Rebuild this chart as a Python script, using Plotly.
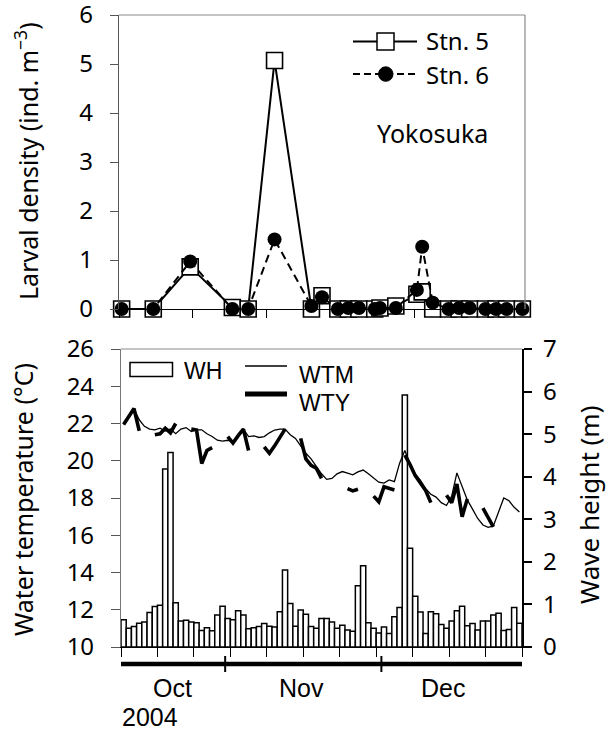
import pandas as pd
import plotly.graph_objects as go

# ---------------- data ----------------
days = pd.date_range("2004-10-12", periods=77, freq="D")

wave_height = [0.64, 0.44, 0.48, 0.56, 0.59, 0.81, 0.95, 0.98, 4.18, 4.57,
               1.04, 0.61, 0.63, 0.59, 0.57, 0.39, 0.45, 0.38, 0.75, 0.96,
               0.67, 0.64, 0.85, 0.75, 0.43, 0.45, 0.48, 0.55, 0.49, 0.47,
               0.83, 1.81, 1.02, 0.49, 0.87, 0.77, 0.48, 0.44, 0.67, 0.67,
               0.59, 0.44, 0.51, 0.40, 0.37, 1.44, 1.91, 0.57, 0.44, 0.33,
               0.47, 0.32, 0.71, 0.93, 5.92, 2.32, 1.19, 0.82, 0.32, 0.83,
               0.78, 0.53, 0.44, 0.61, 0.85, 0.96, 0.50, 0.55, 0.40, 0.61,
               0.61, 0.75, 0.79, 0.39, 0.41, 0.93, 0.56]

wtm = [21.95, 22.35, 22.77, 22.2, 21.85, 21.7, 21.66, 21.75, 21.6, 21.7,
       21.45, 21.7, 21.78, 21.57, 21.66, 21.66, 21.45, 21.3, 21.1, 21.05,
       21.1, 21.03, 21.3, 21.7, 21.3, 21.34, 21.25, 21.3, 21.5, 21.65,
       21.7, 21.7, 21.4, 21.2, 20.8, 20.4, 20.1, 19.7, 19.3, 19.0,
       19.05, 19.3, 19.42, 19.33, 19.24, 19.4, 19.5, 19.3, 19.05, 18.85,
       18.8, 18.97, 18.88, 19.87, 20.55, 19.85, 19.3, 18.95, 18.5, 18.2,
       18.05, 17.75, 17.6, 18.1, 19.35, 18.6, 17.9, 17.4, 16.9, 16.55,
       16.42, 16.5, 17.3, 18.0, 17.85, 17.5, 17.25]

wty = [21.95, 22.4, 22.8, 21.6, None, None, 21.4, 21.45, 21.75, 21.5,
       22.0, None, None, 21.7, 21.65, 19.85, 20.55, 20.7, None, None,
       21.3, 20.95, 21.35, 21.7, 20.55, None, None, 20.75, 20.4, 20.8,
       21.25, 21.7, None, None, 21.2, 20.1, 19.75, 19.6, 19.05, None,
       None, None, None, 18.5, 18.38, 18.47, None, None, 18.1, 17.8,
       18.6, 18.5, 18.43, None, 20.3, 19.8, 19.2, 18.8, 18.4, 17.75,
       None, None, 18.15, 17.75, 18.75, 17.0, 17.95, None, None, 17.45,
       16.95, 16.45, None, None, None, None, None]

sample_dates = ["2004-10-12", "2004-10-18", "2004-10-25", "2004-11-02",
                "2004-11-05", "2004-11-10", "2004-11-17", "2004-11-19",
                "2004-11-22", "2004-11-24", "2004-11-26", "2004-11-29",
                "2004-11-30", "2004-12-03", "2004-12-07", "2004-12-08",
                "2004-12-10", "2004-12-13", "2004-12-15", "2004-12-17",
                "2004-12-20", "2004-12-22", "2004-12-24", "2004-12-27"]
stn5 = [0, 0, 0.86, 0.03, 0, 5.07, 0, 0.27, 0, 0, 0, 0,
        0.02, 0.06, 0.30, 0.35, 0, 0, 0, 0, 0, 0, 0, 0]
stn6 = [0, 0, 0.97, 0, 0, 1.42, 0.06, 0.24, 0, 0.02, 0.02, 0,
        0.02, 0.02, 0.39, 1.27, 0.13, 0, 0.02, 0.02, 0, 0, 0, 0]

month_names = ["Oct", "Nov", "Dec"]
year_label = "2004"

# ---------------- helpers ----------------
W, H = 608, 734
def fx(p):
    return p / W
def fy(p):
    return 1 - p / H

mid = pd.Timedelta(hours=12)
xd = days + mid
xs = pd.to_datetime(sample_dates) + mid
xr = ["2004-10-12", "2004-12-28"]
DAY = 86400000
FONT = "Noto Sans"
LFONT = "Liberation Sans"

fig = go.Figure()

# top panel
fig.add_trace(go.Scatter(
    x=xs, y=stn5, mode="lines+markers", xaxis="x", yaxis="y",
    line=dict(color="black", width=2),
    marker=dict(symbol="square", size=16, color="white",
                line=dict(color="black", width=1.6)),
    cliponaxis=False, showlegend=False))
fig.add_trace(go.Scatter(
    x=xs, y=stn6, mode="lines+markers", xaxis="x", yaxis="y",
    line=dict(color="black", width=2, dash="8px,5px"),
    marker=dict(symbol="circle", size=14, color="black"),
    cliponaxis=False, showlegend=False))

# bottom panel
fig.add_trace(go.Bar(
    x=xd, y=wave_height, width=DAY, xaxis="x2", yaxis="y2",
    marker=dict(color="white", line=dict(color="black", width=1.5)),
    showlegend=False))
fig.add_trace(go.Scatter(
    x=xd, y=wtm, mode="lines", xaxis="x2", yaxis="y3",
    line=dict(color="black", width=1.3), showlegend=False))
fig.add_trace(go.Scatter(
    x=xd, y=wty, mode="lines", xaxis="x2", yaxis="y3", connectgaps=False,
    line=dict(color="black", width=3.6), showlegend=False))

tickfont = dict(family=FONT, size=24, color="black")

fig.update_layout(
    width=W, height=H, template="none",
    margin=dict(l=0, r=0, t=0, b=0),
    paper_bgcolor="white", plot_bgcolor="rgba(0,0,0,0)",
    font=dict(family=FONT, size=24, color="black"),
    showlegend=False,
    xaxis=dict(domain=[fx(119), fx(525)], anchor="y", range=xr, type="date",
               showticklabels=False, ticks="outside", ticklen=8, tickwidth=1.3,
               tickcolor="black", tick0="2004-10-12", dtick=14 * DAY,
               showline=True, linecolor="black", linewidth=1.2,
               showgrid=False, zeroline=False, automargin=False),
    yaxis=dict(domain=[fy(309), fy(15)], anchor="x", range=[0, 6], dtick=1,
               ticks="outside", ticklen=8, tickwidth=1.3, tickcolor="#555",
               showline=True, linecolor="#555", linewidth=1.2,
               showgrid=False, zeroline=False, tickfont=tickfont,
               ticklabelstandoff=12, ticklabeloverflow="allow",
               automargin=False),
    xaxis2=dict(domain=[fx(121), fx(522)], anchor="y2", range=xr, type="date",
                showticklabels=False, ticks="outside", ticklen=9, tickwidth=1.3,
                tickcolor="black", tick0="2004-10-12", dtick=7 * DAY,
                showline=True, linecolor="black", linewidth=1.2,
                showgrid=False, zeroline=False, automargin=False),
    yaxis2=dict(domain=[fy(647), fy(349)], anchor="x2", side="right",
                range=[0, 7], dtick=1, ticks="outside", ticklen=8,
                tickwidth=1.8, tickcolor="black", showline=True,
                linecolor="black", linewidth=2.2, showgrid=False,
                zeroline=False, tickfont=tickfont, ticklabelstandoff=6,
                ticklabeloverflow="allow", automargin=False),
    yaxis3=dict(overlaying="y2", anchor="x2", side="left", range=[10, 26],
                dtick=2, ticks="outside", ticklen=9, tickwidth=1.3,
                tickcolor="#555", showline=True, linecolor="#777",
                linewidth=1.2, showgrid=False, zeroline=False,
                tickfont=tickfont, ticklabelstandoff=12,
                ticklabeloverflow="allow", automargin=False),
)

shapes = []
gray = "#8a8a8a"
# top panel borders (top & right)
shapes.append(dict(type="line", xref="paper", yref="paper",
                   x0=fx(119), x1=fx(525), y0=fy(15), y1=fy(15),
                   line=dict(color=gray, width=1.2)))
shapes.append(dict(type="line", xref="paper", yref="paper",
                   x0=fx(525), x1=fx(525), y0=fy(15), y1=fy(309),
                   line=dict(color=gray, width=1.2)))
# bottom panel top border
shapes.append(dict(type="line", xref="paper", yref="paper",
                   x0=fx(121), x1=fx(522), y0=fy(349), y1=fy(349),
                   line=dict(color=gray, width=1.2)))
# timeline bar with month dividers
shapes.append(dict(type="line", xref="x2", yref="paper",
                   x0=xr[0], x1=xr[1], y0=fy(664), y1=fy(664),
                   line=dict(color="black", width=4.5)))
for d in ["2004-11-01", "2004-12-01"]:
    shapes.append(dict(type="line", xref="x2", yref="paper",
                       x0=d, x1=d, y0=fy(656), y1=fy(672),
                       line=dict(color="black", width=2)))

# top legend
shapes.append(dict(type="line", xref="paper", yref="paper",
                   x0=fx(353), x1=fx(417), y0=fy(41.5), y1=fy(41.5),
                   line=dict(color="black", width=2)))
shapes.append(dict(type="rect", xref="paper", yref="paper",
                   x0=fx(377), x1=fx(394), y0=fy(50), y1=fy(33),
                   fillcolor="white", line=dict(color="black", width=1.5)))
shapes.append(dict(type="line", xref="paper", yref="paper",
                   x0=fx(353), x1=fx(417), y0=fy(74), y1=fy(74),
                   line=dict(color="black", width=2, dash="7px,4px")))
shapes.append(dict(type="circle", xref="paper", yref="paper",
                   x0=fx(378.5), x1=fx(393), y0=fy(81.3), y1=fy(66.8),
                   fillcolor="black", line=dict(color="black", width=1)))

# bottom legend
shapes.append(dict(type="rect", xref="paper", yref="paper",
                   x0=fx(130), x1=fx(172.5), y0=fy(376.5), y1=fy(362.5),
                   fillcolor="white", line=dict(color="black", width=1.5)))
shapes.append(dict(type="line", xref="paper", yref="paper",
                   x0=fx(245), x1=fx(287), y0=fy(366), y1=fy(366),
                   line=dict(color="black", width=1.3)))
shapes.append(dict(type="line", xref="paper", yref="paper",
                   x0=fx(245), x1=fx(287), y0=fy(394), y1=fy(394),
                   line=dict(color="black", width=5)))

annotations = []
def txt(text, x, y, size=24, family=FONT, xanchor="left", angle=0):
    annotations.append(dict(text=text, x=fx(x), y=fy(y), xref="paper",
                            yref="paper", showarrow=False, xanchor=xanchor,
                            yanchor="middle", textangle=angle,
                            font=dict(family=family, size=size, color="black")))

txt("Stn. 5", 424, 41, size=24)
txt("Stn. 6", 424, 74, size=24)
txt("Yokosuka", 490, 133, size=25, xanchor="right")
txt("WH", 182, 371, size=23, family=LFONT)
txt("WTM", 297, 375, size=23, family=LFONT)
txt("WTY", 297, 403, size=23, family=LFONT)
txt("Larval density (ind. m<sup>−3</sup>)", 27, 161, size=25,
    xanchor="center", angle=-90)
txt("Water temperature (°C)", 23, 500, size=25, xanchor="center", angle=-90)
txt("Wave height (m)", 589, 505, size=26, xanchor="center", angle=-90)

# month labels (positioned on the date axis)
month_pos = ["2004-10-21 20:00", "2004-11-15 14:00", "2004-12-12 18:00"]
for name, pos in zip(month_names, month_pos):
    annotations.append(dict(text=name, x=pos, y=fy(688), xref="x2",
                            yref="paper", showarrow=False, xanchor="center",
                            yanchor="middle",
                            font=dict(family=LFONT, size=25, color="black")))
txt(year_label, 120, 717, size=25, family=LFONT)

fig.update_layout(shapes=shapes, annotations=annotations)
fig.write_html(
    "out.html",
    config={"displayModeBar": False},
    post_script="document.body.style.margin='0';"
                "document.body.style.overflow='hidden';")
